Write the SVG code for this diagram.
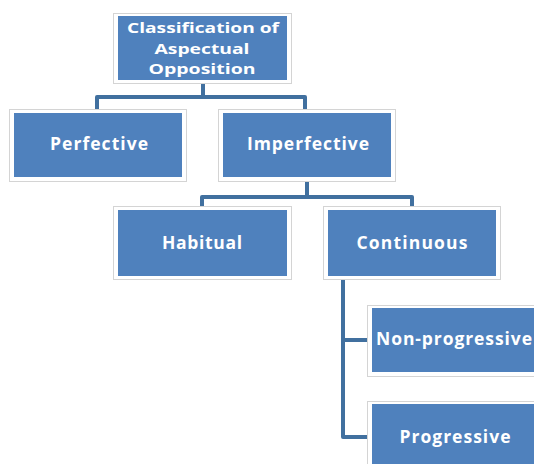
<svg xmlns="http://www.w3.org/2000/svg" width="534" height="464" viewBox="0 0 534 464">
<style>
.frame{fill:#ffffff;stroke:#d4d4d4;stroke-width:1}
.box{fill:#4f81bd}
.lbl{fill:#ffffff;font-family:"Open Sans","Liberation Sans",sans-serif;font-weight:bold;font-size:17.5px;text-anchor:middle}
.top{font-size:14.8px}
.conn{fill:none;stroke:#41709f;stroke-width:4;stroke-linejoin:round}
</style>
<rect width="534" height="464" fill="#ffffff"/>
<g id="connectors">
<path class="conn" d="M203 83 V97 H97 V110"/>
<path class="conn" d="M203 97 H305 V110"/>
<path class="conn" d="M307 180 V197 H202 V207"/>
<path class="conn" d="M307 197 H412 V207"/>
<path class="conn" d="M343 279 V437 H368"/>
<path class="conn" d="M343 340 H368"/>
</g>
<g id="n-root">
<rect class="frame" x="113.5" y="13.5" width="178" height="70"/>
<rect class="box" x="118" y="16" width="169" height="64"/>
<text class="lbl top"><tspan x="203" y="33" textLength="152" lengthAdjust="spacingAndGlyphs">Classification of</tspan><tspan x="202" y="53.6" textLength="95" lengthAdjust="spacingAndGlyphs">Aspectual</tspan><tspan x="202" y="74.2" textLength="107" lengthAdjust="spacingAndGlyphs">Opposition</tspan></text>
</g>
<g id="n-perfective">
<rect class="frame" x="9.5" y="109.5" width="177" height="72"/>
<rect class="box" x="14" y="113" width="168" height="64"/>
<text class="lbl" x="99" y="150" textLength="98">Perfective</text>
</g>
<g id="n-imperfective">
<rect class="frame" x="218.5" y="109.5" width="177" height="72"/>
<rect class="box" x="223" y="113" width="168" height="64"/>
<text class="lbl" x="308" y="150" textLength="122">Imperfective</text>
</g>
<g id="n-habitual">
<rect class="frame" x="113.5" y="206.5" width="178" height="73"/>
<rect class="box" x="118" y="210" width="169" height="66"/>
<text class="lbl" x="202" y="249" textLength="80">Habitual</text>
</g>
<g id="n-continuous">
<rect class="frame" x="323.5" y="206.5" width="177" height="73"/>
<rect class="box" x="328" y="210" width="168" height="66"/>
<text class="lbl" x="412" y="249" textLength="111">Continuous</text>
</g>
<g id="n-nonprogressive">
<rect class="frame" x="367.5" y="305.5" width="180" height="71"/>
<rect class="box" x="372" y="308" width="170" height="64"/>
<text class="lbl" x="454" y="345" textLength="156">Non-progressive</text>
</g>
<g id="n-progressive">
<rect class="frame" x="367.5" y="401.5" width="180" height="71"/>
<rect class="box" x="372" y="404" width="170" height="66"/>
<text class="lbl" x="455" y="443" textLength="111">Progressive</text>
</g>
</svg>
